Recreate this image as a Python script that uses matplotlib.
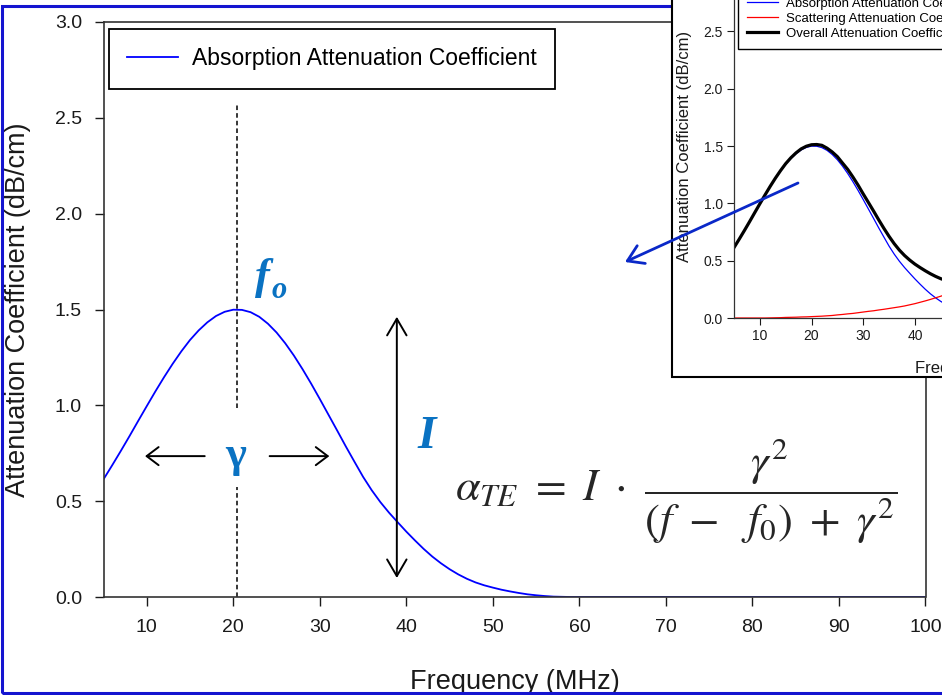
import matplotlib
matplotlib.use("Agg")
import matplotlib.pyplot as plt
from matplotlib.patches import Rectangle, FancyArrowPatch

plt.rcParams["font.family"] = ["Liberation Sans", "DejaVu Sans"]
plt.rcParams["mathtext.fontset"] = "stix"

# main chart: absorption attenuation coefficient (dB/cm) vs frequency (MHz)
freq = list(range(5, 60)) + [100]
absorption = [0.614, 0.687, 0.762, 0.839, 0.918, 0.996, 1.073, 1.147, 1.217, 1.282,
              1.341, 1.391, 1.433, 1.466, 1.488, 1.499, 1.498, 1.486, 1.462, 1.426,
              1.380, 1.324, 1.260, 1.189, 1.113, 1.033, 0.951, 0.869, 0.786, 0.706,
              0.627, 0.557, 0.495, 0.440, 0.390, 0.341, 0.295, 0.251, 0.211, 0.176,
              0.145, 0.118, 0.095, 0.076, 0.061, 0.049, 0.038, 0.029, 0.021, 0.014,
              0.009, 0.005, 0.002, 0.001, 0.0, 0.0]

# inset chart
freq_inset = list(range(5, 51))
scattering = [0, 0, 0, 0, 0, 0, 0, 0.001, 0.002, 0.003,
              0.005, 0.006, 0.007, 0.009, 0.010, 0.012, 0.014, 0.016, 0.019, 0.022,
              0.027, 0.031, 0.036, 0.040, 0.046, 0.052, 0.058, 0.063, 0.070, 0.076,
              0.083, 0.090, 0.097, 0.105, 0.115, 0.125, 0.137, 0.149, 0.162, 0.176,
              0.19, 0.205, 0.22, 0.237, 0.253, 0.27]
overall = [0.614, 0.687, 0.762, 0.839, 0.918, 0.996, 1.073, 1.148, 1.219, 1.285,
           1.346, 1.397, 1.440, 1.475, 1.498, 1.511, 1.513, 1.506, 1.481, 1.448,
           1.407, 1.351, 1.296, 1.230, 1.159, 1.082, 1.008, 0.933, 0.856, 0.782,
           0.712, 0.648, 0.592, 0.545, 0.505, 0.470, 0.440, 0.412, 0.386, 0.363,
           0.343, 0.327, 0.316, 0.310, 0.308, 0.310]

xticks = [10, 20, 30, 40, 50, 60, 70, 80, 90, 100]
yticks = [0.0, 0.5, 1.0, 1.5, 2.0, 2.5, 3.0]

# annotation anchors (MHz / dB/cm)
f0 = 20.4
gamma_left = (16.7, 9.8)
gamma_right = (24.2, 31.1)
gamma_y = 0.735
i_x = 38.9
i_range = (0.099, 1.462)

W, H = 942, 695
fig = plt.figure(figsize=(W / 100, H / 100), dpi=100)

# blue outer border
fig.add_artist(Rectangle((2 / W, 2 / H), 1.2, 687 / H, transform=fig.transFigure,
                         fill=False, edgecolor="#1414d0", lw=2.2, zorder=0.5))

ax = fig.add_axes([103.5 / W, 98 / H, 822 / W, 575 / H])
ax.plot(freq, absorption, color="#0000ff", lw=1.3,
        label="Absorption Attenuation Coefficient")
ax.set_xlim(5, 100)
ax.set_ylim(0, 3.0)
ax.set_xticks(xticks)
ax.set_yticks(yticks)
ax.set_yticklabels([f"{v:.1f}" for v in yticks])
ax.tick_params(direction="out", length=6.5, width=1, pad=9, labelsize=14,
               colors="#1a1a1a")
for s in ax.spines.values():
    s.set_color("#333333")
    s.set_linewidth(1.2)
ax.set_xlabel("Frequency (MHz)", fontsize=19.5, color="#1a1a1a")
ax.set_ylabel("Attenuation Coefficient (dB/cm)", fontsize=19.5, color="#1a1a1a")
ax.xaxis.set_label_coords(0.5, -0.125)
ax.yaxis.set_label_coords(-0.088, 0.5)

leg = ax.legend(loc="upper left", bbox_to_anchor=(109 / W, 1 - 29 / H),
                bbox_transform=fig.transFigure, borderaxespad=0, fontsize=16.5,
                fancybox=False, framealpha=1, handlelength=2.2,
                handletextpad=0.6, borderpad=0.8)
leg.get_frame().set_edgecolor("black")
leg.get_frame().set_linewidth(1.3)

# f0 dashed marker
ax.plot([f0, f0], [0.986, 2.577], ls=(0, (3, 2)), color="black", lw=1.1)
ax.plot([f0, f0], [0.0, 0.574], ls=(0, (3, 2)), color="black", lw=1.1)

blue_txt = "#0a72c2"
ax.text(22.5, 1.605, "f", fontsize=32, family="Liberation Serif", weight="bold",
        style="italic", color=blue_txt, ha="left", va="baseline")
ax.text(24.4, 1.56, "o", fontsize=22, family="Liberation Serif", weight="bold",
        style="italic", color=blue_txt, ha="left", va="baseline")
ax.text(20.25, 0.68, "γ", fontsize=32, family="Liberation Serif", weight="bold",
        color=blue_txt, ha="center", va="baseline")
ax.text(42.3, 0.777, "I", fontsize=34, family="Liberation Serif", weight="bold",
        style="italic", color=blue_txt, ha="center", va="baseline")

arrow_kw = dict(arrowstyle="->,head_length=0.86,head_width=0.65", lw=1.4,
                color="black", shrinkA=0, shrinkB=0)
ax.annotate("", xy=(gamma_left[1], gamma_y), xytext=(gamma_left[0], gamma_y),
            arrowprops=arrow_kw)
ax.annotate("", xy=(gamma_right[1], gamma_y), xytext=(gamma_right[0], gamma_y),
            arrowprops=arrow_kw)
ax.annotate("", xy=(i_x, i_range[1]), xytext=(i_x, i_range[0]),
            arrowprops=dict(arrowstyle="<->,head_length=1.2,head_width=0.7",
                            lw=1.4, color="black", shrinkA=0, shrinkB=0))

ax.text(71.2, 0.553,
        r"$\alpha_{TE}\ =\ I\ \cdot\ \dfrac{\gamma^{2}}{(f\ -\ \ f_{0})\ +\ \gamma^{2}}$",
        fontsize=32, color="#262626", ha="center", va="center")

# inset frame and inset chart
fig.add_artist(Rectangle((672 / W, 1 - 377 / H), 0.5, 0.7, transform=fig.transFigure,
                         facecolor="white", edgecolor="black", lw=1.5, zorder=1))

ins = fig.add_axes([734 / W, 377 / H, 491 / W, 344 / H])
ins.set_zorder(2)
ins.patch.set_alpha(0)
ins.plot(freq, absorption, color="#0000ff", lw=0.9,
         label="Absorption Attenuation Coefficient")
ins.plot(freq_inset, scattering, color="#ff0000", lw=0.9,
         label="Scattering Attenuation Coefficient")
ins.plot(freq_inset, overall, color="black", lw=2.3,
         label="Overall Attenuation Coefficient")
ins.set_xlim(5, 100)
ins.set_ylim(0, 3.0)
ins.set_xticks(xticks)
ins.set_yticks(yticks)
ins.set_yticklabels([f"{v:.1f}" for v in yticks])
ins.tick_params(direction="out", length=5, width=0.8, pad=3, labelsize=10,
                colors="#1a1a1a")
for s in ins.spines.values():
    s.set_color("#333333")
    s.set_linewidth(0.9)
ins.set_xlabel("Frequency (MHz)", fontsize=12, color="#1a1a1a")
ins.set_ylabel("Attenuation Coefficient (dB/cm)", fontsize=12, color="#1a1a1a")
ins.xaxis.set_label_coords(0.5, -0.125)
ins.yaxis.set_label_coords(-0.085, 0.5)
leg2 = ins.legend(loc="lower left", bbox_to_anchor=(738 / W, 1 - 49 / H),
                  bbox_transform=fig.transFigure, borderaxespad=0, fontsize=9.5,
                  fancybox=False, framealpha=1, handlelength=2.3,
                  handletextpad=0.6, borderpad=0.7, labelspacing=0.2)
leg2.get_frame().set_edgecolor("black")
leg2.get_frame().set_linewidth(1.0)

# blue pointer from inset to main chart
fig.add_artist(FancyArrowPatch((798 / W, 1 - 183 / H), (625 / W, 1 - 262 / H),
                               transform=fig.transFigure,
                               arrowstyle="->,head_length=0.55,head_width=0.35",
                               mutation_scale=20, lw=2, color="#0a28c8",
                               shrinkA=0, shrinkB=0, zorder=5))

fig.savefig("out.png", dpi=100)
plt.close(fig)
